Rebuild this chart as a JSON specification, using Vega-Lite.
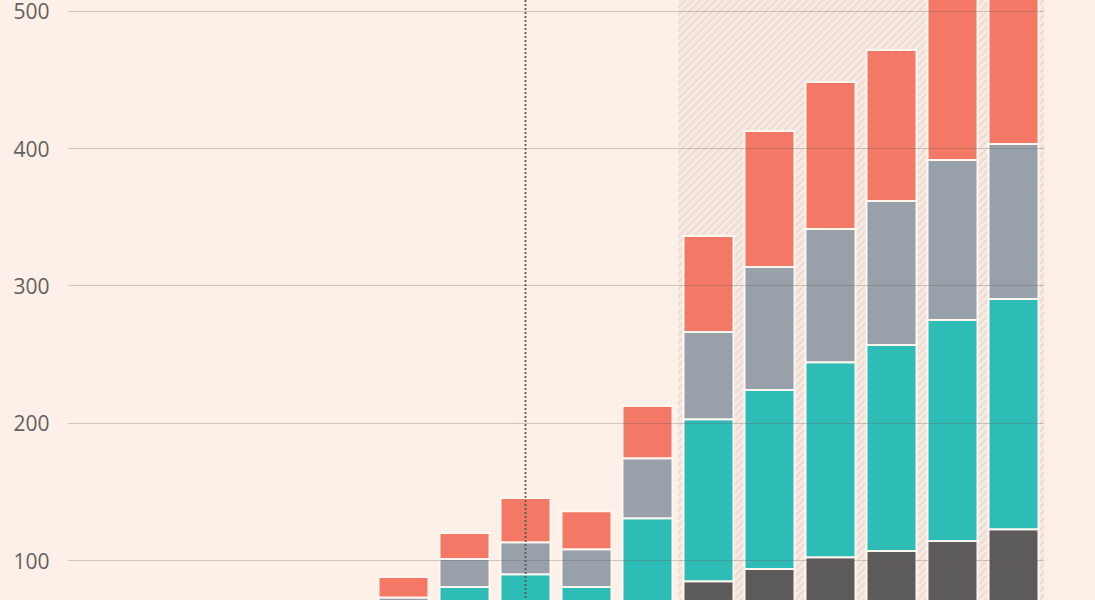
{
  "$schema": "https://vega.github.io/schema/vega-lite/v6.json",
  "width": 976,
  "height": 600,
  "autosize": {"type": "none"},
  "padding": {"left": 68, "top": 0, "right": 51, "bottom": 0},
  "background": "#fdf0e8",
  "config": {"view": {"stroke": null}, "font": "Open Sans"},
  "datasets": {
    "bars": [
      {"year": "2013", "series": "A", "ord": 1, "value": 12},
      {"year": "2013", "series": "B", "ord": 2, "value": 10},
      {"year": "2013", "series": "C", "ord": 3, "value": 8},
      {"year": "2013", "series": "D", "ord": 4, "value": 6},
      {"year": "2014", "series": "A", "ord": 1, "value": 14},
      {"year": "2014", "series": "B", "ord": 2, "value": 12},
      {"year": "2014", "series": "C", "ord": 3, "value": 9},
      {"year": "2014", "series": "D", "ord": 4, "value": 7},
      {"year": "2015", "series": "A", "ord": 1, "value": 16},
      {"year": "2015", "series": "B", "ord": 2, "value": 15},
      {"year": "2015", "series": "C", "ord": 3, "value": 10},
      {"year": "2015", "series": "D", "ord": 4, "value": 8},
      {"year": "2016", "series": "A", "ord": 1, "value": 18},
      {"year": "2016", "series": "B", "ord": 2, "value": 18},
      {"year": "2016", "series": "C", "ord": 3, "value": 12},
      {"year": "2016", "series": "D", "ord": 4, "value": 9},
      {"year": "2017", "series": "A", "ord": 1, "value": 20},
      {"year": "2017", "series": "B", "ord": 2, "value": 22},
      {"year": "2017", "series": "C", "ord": 3, "value": 13},
      {"year": "2017", "series": "D", "ord": 4, "value": 11},
      {"year": "2018", "series": "A", "ord": 1, "value": 24},
      {"year": "2018", "series": "B", "ord": 2, "value": 31},
      {"year": "2018", "series": "C", "ord": 3, "value": 17.8},
      {"year": "2018", "series": "D", "ord": 4, "value": 14.8},
      {"year": "2019", "series": "A", "ord": 1, "value": 28},
      {"year": "2019", "series": "B", "ord": 2, "value": 52.3},
      {"year": "2019", "series": "C", "ord": 3, "value": 20.4},
      {"year": "2019", "series": "D", "ord": 4, "value": 18.9},
      {"year": "2020", "series": "A", "ord": 1, "value": 31},
      {"year": "2020", "series": "B", "ord": 2, "value": 58.7},
      {"year": "2020", "series": "C", "ord": 3, "value": 23.3},
      {"year": "2020", "series": "D", "ord": 4, "value": 32.1},
      {"year": "2021", "series": "A", "ord": 1, "value": 30},
      {"year": "2021", "series": "B", "ord": 2, "value": 50.3},
      {"year": "2021", "series": "C", "ord": 3, "value": 27.6},
      {"year": "2021", "series": "D", "ord": 4, "value": 27.7},
      {"year": "2022", "series": "A", "ord": 1, "value": 42},
      {"year": "2022", "series": "B", "ord": 2, "value": 88.5},
      {"year": "2022", "series": "C", "ord": 3, "value": 43.7},
      {"year": "2022", "series": "D", "ord": 4, "value": 37.9},
      {"year": "2023", "series": "A", "ord": 1, "value": 84.6},
      {"year": "2023", "series": "B", "ord": 2, "value": 118.0},
      {"year": "2023", "series": "C", "ord": 3, "value": 63.4},
      {"year": "2023", "series": "D", "ord": 4, "value": 69.9},
      {"year": "2024", "series": "A", "ord": 1, "value": 93.4},
      {"year": "2024", "series": "B", "ord": 2, "value": 130.4},
      {"year": "2024", "series": "C", "ord": 3, "value": 89.5},
      {"year": "2024", "series": "D", "ord": 4, "value": 99.1},
      {"year": "2025", "series": "A", "ord": 1, "value": 102.1},
      {"year": "2025", "series": "B", "ord": 2, "value": 142.0},
      {"year": "2025", "series": "C", "ord": 3, "value": 96.9},
      {"year": "2025", "series": "D", "ord": 4, "value": 107.1},
      {"year": "2026", "series": "A", "ord": 1, "value": 106.5},
      {"year": "2026", "series": "B", "ord": 2, "value": 150.0},
      {"year": "2026", "series": "C", "ord": 3, "value": 104.9},
      {"year": "2026", "series": "D", "ord": 4, "value": 110.0},
      {"year": "2027", "series": "A", "ord": 1, "value": 113.8},
      {"year": "2027", "series": "B", "ord": 2, "value": 160.9},
      {"year": "2027", "series": "C", "ord": 3, "value": 116.6},
      {"year": "2027", "series": "D", "ord": 4, "value": 130},
      {"year": "2028", "series": "A", "ord": 1, "value": 122.5},
      {"year": "2028", "series": "B", "ord": 2, "value": 167.5},
      {"year": "2028", "series": "C", "ord": 3, "value": 112.9},
      {"year": "2028", "series": "D", "ord": 4, "value": 125}
    ],
    "forecast": [
      {"year": "2023"}, {"year": "2024"}, {"year": "2025"},
      {"year": "2026"}, {"year": "2027"}, {"year": "2028"}
    ],
    "marker": [{"year": "2020"}]
  },
  "encoding": {
    "x": {
      "field": "year",
      "type": "ordinal",
      "axis": null,
      "scale": {
        "domain": ["2013","2014","2015","2016","2017","2018","2019","2020","2021","2022","2023","2024","2025","2026","2027","2028"],
        "paddingInner": 0.18,
        "paddingOuter": 0.09
      }
    }
  },
  "layer": [
    {
      "data": {"name": "forecast"},
      "mark": {
        "type": "bar",
        "width": {"band": 1.2196},
        "fill": {
          "gradient": "linear",
          "x1": 0, "y1": 0, "x2": 0.12788, "y2": 1.25784,
          "stops": [
            {"offset": 0.000, "color": "#ecdbd2"}, {"offset": 0.005, "color": "#faeee7"},
            {"offset": 0.010, "color": "#ecdbd2"}, {"offset": 0.015, "color": "#faeee7"},
            {"offset": 0.020, "color": "#ecdbd2"}, {"offset": 0.025, "color": "#faeee7"},
            {"offset": 0.030, "color": "#ecdbd2"}, {"offset": 0.035, "color": "#faeee7"},
            {"offset": 0.040, "color": "#ecdbd2"}, {"offset": 0.045, "color": "#faeee7"},
            {"offset": 0.050, "color": "#ecdbd2"}, {"offset": 0.055, "color": "#faeee7"},
            {"offset": 0.060, "color": "#ecdbd2"}, {"offset": 0.065, "color": "#faeee7"},
            {"offset": 0.070, "color": "#ecdbd2"}, {"offset": 0.075, "color": "#faeee7"},
            {"offset": 0.080, "color": "#ecdbd2"}, {"offset": 0.085, "color": "#faeee7"},
            {"offset": 0.090, "color": "#ecdbd2"}, {"offset": 0.095, "color": "#faeee7"},
            {"offset": 0.100, "color": "#ecdbd2"}, {"offset": 0.105, "color": "#faeee7"},
            {"offset": 0.110, "color": "#ecdbd2"}, {"offset": 0.115, "color": "#faeee7"},
            {"offset": 0.120, "color": "#ecdbd2"}, {"offset": 0.125, "color": "#faeee7"},
            {"offset": 0.130, "color": "#ecdbd2"}, {"offset": 0.135, "color": "#faeee7"},
            {"offset": 0.140, "color": "#ecdbd2"}, {"offset": 0.145, "color": "#faeee7"},
            {"offset": 0.150, "color": "#ecdbd2"}, {"offset": 0.155, "color": "#faeee7"},
            {"offset": 0.160, "color": "#ecdbd2"}, {"offset": 0.165, "color": "#faeee7"},
            {"offset": 0.170, "color": "#ecdbd2"}, {"offset": 0.175, "color": "#faeee7"},
            {"offset": 0.180, "color": "#ecdbd2"}, {"offset": 0.185, "color": "#faeee7"},
            {"offset": 0.190, "color": "#ecdbd2"}, {"offset": 0.195, "color": "#faeee7"},
            {"offset": 0.200, "color": "#ecdbd2"}, {"offset": 0.205, "color": "#faeee7"},
            {"offset": 0.210, "color": "#ecdbd2"}, {"offset": 0.215, "color": "#faeee7"},
            {"offset": 0.220, "color": "#ecdbd2"}, {"offset": 0.225, "color": "#faeee7"},
            {"offset": 0.230, "color": "#ecdbd2"}, {"offset": 0.235, "color": "#faeee7"},
            {"offset": 0.240, "color": "#ecdbd2"}, {"offset": 0.245, "color": "#faeee7"},
            {"offset": 0.250, "color": "#ecdbd2"}, {"offset": 0.255, "color": "#faeee7"},
            {"offset": 0.260, "color": "#ecdbd2"}, {"offset": 0.265, "color": "#faeee7"},
            {"offset": 0.270, "color": "#ecdbd2"}, {"offset": 0.275, "color": "#faeee7"},
            {"offset": 0.280, "color": "#ecdbd2"}, {"offset": 0.285, "color": "#faeee7"},
            {"offset": 0.290, "color": "#ecdbd2"}, {"offset": 0.295, "color": "#faeee7"},
            {"offset": 0.300, "color": "#ecdbd2"}, {"offset": 0.305, "color": "#faeee7"},
            {"offset": 0.310, "color": "#ecdbd2"}, {"offset": 0.315, "color": "#faeee7"},
            {"offset": 0.320, "color": "#ecdbd2"}, {"offset": 0.325, "color": "#faeee7"},
            {"offset": 0.330, "color": "#ecdbd2"}, {"offset": 0.335, "color": "#faeee7"},
            {"offset": 0.340, "color": "#ecdbd2"}, {"offset": 0.345, "color": "#faeee7"},
            {"offset": 0.350, "color": "#ecdbd2"}, {"offset": 0.355, "color": "#faeee7"},
            {"offset": 0.360, "color": "#ecdbd2"}, {"offset": 0.365, "color": "#faeee7"},
            {"offset": 0.370, "color": "#ecdbd2"}, {"offset": 0.375, "color": "#faeee7"},
            {"offset": 0.380, "color": "#ecdbd2"}, {"offset": 0.385, "color": "#faeee7"},
            {"offset": 0.390, "color": "#ecdbd2"}, {"offset": 0.395, "color": "#faeee7"},
            {"offset": 0.400, "color": "#ecdbd2"}, {"offset": 0.405, "color": "#faeee7"},
            {"offset": 0.410, "color": "#ecdbd2"}, {"offset": 0.415, "color": "#faeee7"},
            {"offset": 0.420, "color": "#ecdbd2"}, {"offset": 0.425, "color": "#faeee7"},
            {"offset": 0.430, "color": "#ecdbd2"}, {"offset": 0.435, "color": "#faeee7"},
            {"offset": 0.440, "color": "#ecdbd2"}, {"offset": 0.445, "color": "#faeee7"},
            {"offset": 0.450, "color": "#ecdbd2"}, {"offset": 0.455, "color": "#faeee7"},
            {"offset": 0.460, "color": "#ecdbd2"}, {"offset": 0.465, "color": "#faeee7"},
            {"offset": 0.470, "color": "#ecdbd2"}, {"offset": 0.475, "color": "#faeee7"},
            {"offset": 0.480, "color": "#ecdbd2"}, {"offset": 0.485, "color": "#faeee7"},
            {"offset": 0.490, "color": "#ecdbd2"}, {"offset": 0.495, "color": "#faeee7"},
            {"offset": 0.500, "color": "#ecdbd2"}, {"offset": 0.505, "color": "#faeee7"},
            {"offset": 0.510, "color": "#ecdbd2"}, {"offset": 0.515, "color": "#faeee7"},
            {"offset": 0.520, "color": "#ecdbd2"}, {"offset": 0.525, "color": "#faeee7"},
            {"offset": 0.530, "color": "#ecdbd2"}, {"offset": 0.535, "color": "#faeee7"},
            {"offset": 0.540, "color": "#ecdbd2"}, {"offset": 0.545, "color": "#faeee7"},
            {"offset": 0.550, "color": "#ecdbd2"}, {"offset": 0.555, "color": "#faeee7"},
            {"offset": 0.560, "color": "#ecdbd2"}, {"offset": 0.565, "color": "#faeee7"},
            {"offset": 0.570, "color": "#ecdbd2"}, {"offset": 0.575, "color": "#faeee7"},
            {"offset": 0.580, "color": "#ecdbd2"}, {"offset": 0.585, "color": "#faeee7"},
            {"offset": 0.590, "color": "#ecdbd2"}, {"offset": 0.595, "color": "#faeee7"},
            {"offset": 0.600, "color": "#ecdbd2"}, {"offset": 0.605, "color": "#faeee7"},
            {"offset": 0.610, "color": "#ecdbd2"}, {"offset": 0.615, "color": "#faeee7"},
            {"offset": 0.620, "color": "#ecdbd2"}, {"offset": 0.625, "color": "#faeee7"},
            {"offset": 0.630, "color": "#ecdbd2"}, {"offset": 0.635, "color": "#faeee7"},
            {"offset": 0.640, "color": "#ecdbd2"}, {"offset": 0.645, "color": "#faeee7"},
            {"offset": 0.650, "color": "#ecdbd2"}, {"offset": 0.655, "color": "#faeee7"},
            {"offset": 0.660, "color": "#ecdbd2"}, {"offset": 0.665, "color": "#faeee7"},
            {"offset": 0.670, "color": "#ecdbd2"}, {"offset": 0.675, "color": "#faeee7"},
            {"offset": 0.680, "color": "#ecdbd2"}, {"offset": 0.685, "color": "#faeee7"},
            {"offset": 0.690, "color": "#ecdbd2"}, {"offset": 0.695, "color": "#faeee7"},
            {"offset": 0.700, "color": "#ecdbd2"}, {"offset": 0.705, "color": "#faeee7"},
            {"offset": 0.710, "color": "#ecdbd2"}, {"offset": 0.715, "color": "#faeee7"},
            {"offset": 0.720, "color": "#ecdbd2"}, {"offset": 0.725, "color": "#faeee7"},
            {"offset": 0.730, "color": "#ecdbd2"}, {"offset": 0.735, "color": "#faeee7"},
            {"offset": 0.740, "color": "#ecdbd2"}, {"offset": 0.745, "color": "#faeee7"},
            {"offset": 0.750, "color": "#ecdbd2"}, {"offset": 0.755, "color": "#faeee7"},
            {"offset": 0.760, "color": "#ecdbd2"}, {"offset": 0.765, "color": "#faeee7"},
            {"offset": 0.770, "color": "#ecdbd2"}, {"offset": 0.775, "color": "#faeee7"},
            {"offset": 0.780, "color": "#ecdbd2"}, {"offset": 0.785, "color": "#faeee7"},
            {"offset": 0.790, "color": "#ecdbd2"}, {"offset": 0.795, "color": "#faeee7"},
            {"offset": 0.800, "color": "#ecdbd2"}, {"offset": 0.805, "color": "#faeee7"},
            {"offset": 0.810, "color": "#ecdbd2"}, {"offset": 0.815, "color": "#faeee7"},
            {"offset": 0.820, "color": "#ecdbd2"}, {"offset": 0.825, "color": "#faeee7"},
            {"offset": 0.830, "color": "#ecdbd2"}, {"offset": 0.835, "color": "#faeee7"},
            {"offset": 0.840, "color": "#ecdbd2"}, {"offset": 0.845, "color": "#faeee7"},
            {"offset": 0.850, "color": "#ecdbd2"}, {"offset": 0.855, "color": "#faeee7"},
            {"offset": 0.860, "color": "#ecdbd2"}, {"offset": 0.865, "color": "#faeee7"},
            {"offset": 0.870, "color": "#ecdbd2"}
          ]
        }
      },
      "encoding": {}
    },
    {
      "data": {"name": "bars"},
      "mark": {"type": "bar", "clip": true, "stroke": "#fff6f0", "strokeWidth": 2},
      "encoding": {
        "y": {
          "field": "value",
          "type": "quantitative",
          "stack": "zero",
          "scale": {"domain": [70.9, 507.8], "nice": false, "zero": false},
          "axis": {
            "values": [100, 200, 300, 400, 500],
            "title": null,
            "domain": false,
            "ticks": false,
            "grid": true,
            "zindex": 1,
            "gridColor": "#66605c",
            "gridOpacity": 0.3,
            "gridWidth": 1,
            "labelFontSize": 21,
            "labelColor": "#66605c",
            "labelPadding": 19,
            "labelBaseline": "middle",
            "labelOffset": 2
          }
        },
        "color": {
          "field": "series",
          "type": "nominal",
          "legend": null,
          "scale": {"domain": ["A", "B", "C", "D"], "range": ["#5c5a5b", "#2dbcb6", "#98a1aa", "#f37865"]}
        },
        "order": {"field": "ord", "type": "quantitative"}
      }
    },
    {
      "data": {"name": "marker"},
      "mark": {"type": "rule", "color": "#5d5a58", "strokeWidth": 1.8, "strokeDash": [2, 2]},
      "encoding": {}
    }
  ]
}
